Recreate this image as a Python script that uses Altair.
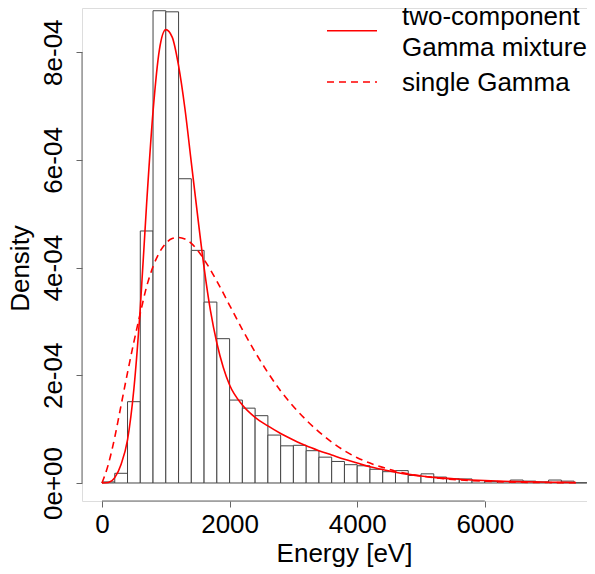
import altair as alt
import pandas as pd

# ---- data ----
bin_left = list(range(0, 7600, 200))
bin_width = 200
density_e4 = [0.02, 0.18, 1.51, 4.68, 8.77, 8.75, 5.65, 4.32, 3.36, 2.68,
              1.54, 1.39, 1.25, 0.89, 0.69, 0.70, 0.60, 0.48, 0.40, 0.34,
              0.32, 0.255, 0.21, 0.23, 0.14, 0.17, 0.11, 0.08, 0.075, 0.045,
              0.03, 0.025, 0.055, 0.035, 0.02, 0.055, 0.035, 0.005]

mix_x = [0, 100, 200, 300, 400, 500, 600, 700, 800, 900, 1000, 1100, 1200,
         1300, 1400, 1500, 1600, 1700, 1800, 1900, 2000, 2200, 2400, 2600,
         2800, 3000, 3200, 3400, 3600, 3800, 4000, 4200, 4400, 4600, 4800,
         5000, 5200, 5600, 6000, 6500, 7000, 7430]
mix_y_e4 = [0, 0.01, 0.10, 0.35, 0.80, 1.75, 3.25, 5.20, 6.90, 8.05, 8.42,
            8.28, 7.75, 6.95, 5.95, 4.95, 4.00, 3.20, 2.60, 2.15, 1.82, 1.45,
            1.22, 1.06, 0.92, 0.80, 0.69, 0.60, 0.52, 0.44, 0.37, 0.30, 0.25,
            0.20, 0.16, 0.13, 0.105, 0.07, 0.045, 0.025, 0.015, 0.01]

single_x = [0, 100, 200, 300, 400, 500, 600, 700, 800, 900, 1000, 1100, 1200,
            1300, 1400, 1500, 1600, 1800, 2000, 2200, 2400, 2600, 2800, 3000,
            3200, 3400, 3600, 3800, 4000, 4200, 4400, 4600, 4800, 5000, 5200,
            5600, 6000, 6500, 7000, 7430]
single_y_e4 = [0, 0.35, 0.85, 1.45, 2.05, 2.62, 3.15, 3.65, 4.02, 4.28, 4.45,
               4.54, 4.56, 4.53, 4.45, 4.32, 4.15, 3.75, 3.30, 2.85, 2.43,
               2.05, 1.71, 1.42, 1.17, 0.95, 0.76, 0.60, 0.47, 0.37, 0.29,
               0.22, 0.17, 0.13, 0.10, 0.058, 0.033, 0.016, 0.008, 0.004]

x_ticks = [0, 2000, 4000, 6000]
y_ticks = [0, 2e-4, 4e-4, 6e-4, 8e-4]
legend_labels = ["two-component", "Gamma mixture", "single Gamma"]

# ---- tables ----
bars = pd.DataFrame({
    "x0": bin_left,
    "x1": [b + bin_width for b in bin_left],
    "d": [v * 1e-4 for v in density_e4],
})
mix = pd.DataFrame({"x": mix_x, "y": [v * 1e-4 for v in mix_y_e4]})
single = pd.DataFrame({"x": single_x, "y": [v * 1e-4 for v in single_y_e4]})

FONT = "Liberation Sans"
W, H = 505, 493
xscale = alt.Scale(domain=[-313.5, 7601.7], nice=False, zero=False)
yscale = alt.Scale(domain=[-0.3343e-4, 8.8208e-4], nice=False, zero=False)
AXCOL = "#666666"

x_axis = alt.Axis(values=x_ticks, format="d", domain=False, grid=False,
                  tickSize=6, tickColor=AXCOL, labelFontSize=26,
                  labelFont=FONT, labelColor="black",
                  labelBaseline="alphabetic", labelAlign="center",
                  labelPadding=25, labelFlush=False, labelOverlap=False,
                  title="Energy [eV]", titleFont=FONT, titleFontSize=26,
                  titleFontWeight="normal", titleColor="black", titleX=262,
                  titleY=60, titleAlign="center", titleBaseline="alphabetic",
                  titleAngle=0)
y_axis = alt.Axis(values=y_ticks, domain=False, grid=False, tickSize=6,
                  tickColor=AXCOL, labelFontSize=26, labelFont=FONT,
                  labelColor="black", labelAngle=270, labelAlign="center",
                  labelBaseline="alphabetic", labelPadding=14.5,
                  labelFlush=False, labelOverlap=False,
                  labelExpr="replace(replace(format(datum.value, '.0e'), 'e-', 'e-0'), 'e+', 'e+0')",
                  title="Density", titleFont=FONT, titleFontSize=26,
                  titleFontWeight="normal", titleColor="black",
                  titleAngle=270, titleX=-54, titleY=260,
                  titleAlign="center", titleBaseline="alphabetic")

hist = alt.Chart(bars).mark_rect(fill="white", stroke="#444444",
                                 strokeWidth=1).encode(
    x=alt.X("x0:Q", scale=xscale, axis=x_axis),
    x2="x1:Q",
    y=alt.Y("d:Q", scale=yscale, axis=y_axis),
    y2=alt.datum(0),
)

mix_line = alt.Chart(mix).mark_line(color="#ff0000", strokeWidth=1.6,
                                    interpolate="monotone").encode(
    x=alt.X("x:Q", scale=xscale), y=alt.Y("y:Q", scale=yscale))
single_line = alt.Chart(single).mark_line(color="#ff0000", strokeWidth=1.6,
                                          strokeDash=[7, 5],
                                          interpolate="monotone").encode(
    x=alt.X("x:Q", scale=xscale), y=alt.Y("y:Q", scale=yscale))

# R-style axis lines spanning only the tick range
xline = alt.Chart(pd.DataFrame({"a": [x_ticks[0]], "b": [x_ticks[-1]]})).mark_rule(
    color=AXCOL, strokeWidth=1).encode(
    x=alt.X("a:Q", scale=xscale), x2="b:Q", y=alt.value(H))
yline = alt.Chart(pd.DataFrame({"a": [y_ticks[0]], "b": [y_ticks[-1]]})).mark_rule(
    color=AXCOL, strokeWidth=1).encode(
    y=alt.Y("a:Q", scale=yscale), y2="b:Q", x=alt.value(0))

# legend (no box)
leg_solid = alt.Chart(pd.DataFrame({"k": [0]})).mark_rule(
    color="#ff0000", strokeWidth=1.6).encode(
    x=alt.value(245), x2=alt.value(295), y=alt.value(22.7))
leg_dash = alt.Chart(pd.DataFrame({"k": [0]})).mark_rule(
    color="#ff0000", strokeWidth=1.6, strokeDash=[7, 5]).encode(
    x=alt.value(245), x2=alt.value(295), y=alt.value(74))

def leg_text(label, ypix):
    return alt.Chart(pd.DataFrame({"t": [label]})).mark_text(
        align="left", baseline="alphabetic", font=FONT, fontSize=26,
        color="black").encode(text="t:N", x=alt.value(320), y=alt.value(ypix))

chart = alt.layer(
    hist, mix_line, single_line, xline, yline, leg_solid, leg_dash,
    leg_text(legend_labels[0], 17), leg_text(legend_labels[1], 48),
    leg_text(legend_labels[2], 83),
).properties(
    width=W, height=H,
    autosize=alt.AutoSizeParams(type="none"),
    padding={"left": 74, "top": 0, "right": 0, "bottom": 66},
).configure_view(stroke=None).configure(background="white")

chart.save("out.html", embed_options={"renderer": "svg", "actions": False})
